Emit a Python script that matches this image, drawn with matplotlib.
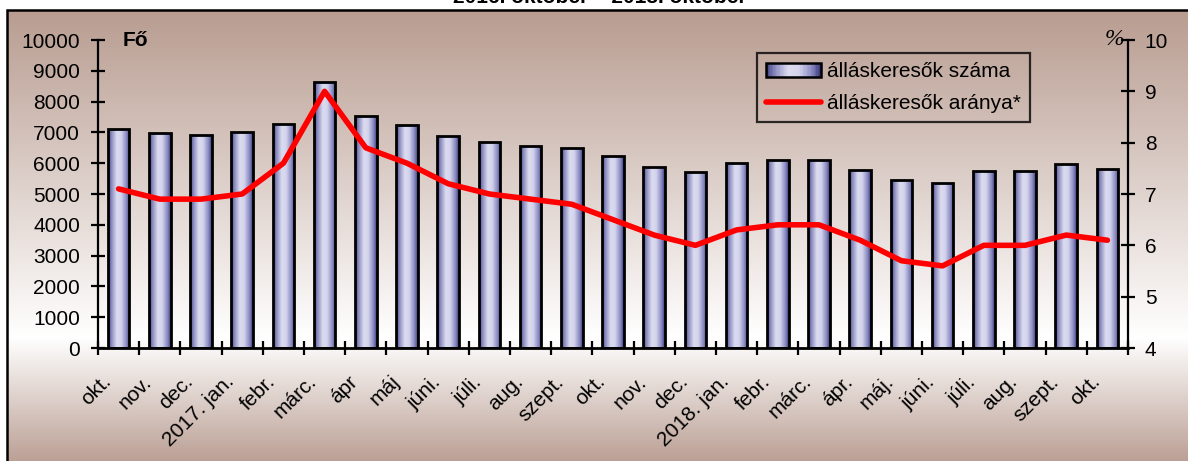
import numpy as np
import matplotlib
matplotlib.use('Agg')
import matplotlib.pyplot as plt
from matplotlib.colors import LinearSegmentedColormap
from matplotlib.patches import Rectangle
from matplotlib.legend_handler import HandlerBase
import matplotlib.transforms as mtransforms

plt.rcParams['font.family'] = ['Liberation Sans', 'DejaVu Sans']

# ---------------- data ----------------
months = ["okt.", "nov.", "dec.", "2017. jan.", "febr.", "márc.", "ápr", "máj",
          "júni.", "júli.", "aug.", "szept.", "okt.", "nov.", "dec.", "2018. jan.",
          "febr.", "márc.", "ápr.", "máj.", "júni.", "júli.", "aug.", "szept.", "okt."]
job_seekers = [7100, 6980, 6910, 7010, 7270, 8630, 7530, 7240, 6880, 6690, 6560, 6490,
               6230, 5880, 5710, 6010, 6100, 6110, 5780, 5450, 5360, 5750, 5750, 5970, 5810]
rate = [7.1, 6.9, 6.9, 7.0, 7.6, 9.0, 7.9, 7.6, 7.2, 7.0, 6.9, 6.8, 6.5, 6.2, 6.0,
        6.3, 6.4, 6.4, 6.1, 5.7, 5.6, 6.0, 6.0, 6.2, 6.1]
left_ticks = list(range(0, 10001, 1000))
right_ticks = [4, 5, 6, 7, 8, 9, 10]
series_names = ["álláskeresők száma", "álláskeresők aránya*"]
title = "2016. október – 2018. október"
left_unit = "Fő"
right_unit = "%"

# ---------------- figure ----------------
W, H = 1188, 461
fig = plt.figure(figsize=(W / 100, H / 100), dpi=100)
fig.patch.set_facecolor('white')

# background gradient inside frame
bg = fig.add_axes([8 / W, 0, 1 - 8 / W, 1 - 11 / H], zorder=0)
bg.axis('off')
taupe_top = np.array([184, 156, 144]) / 255
taupe_bot = np.array([187, 160, 149]) / 255
white = np.array([1.0, 1.0, 1.0])
n = 500
t = np.linspace(0, 1, n)  # 0 = top of bg axes
t_white = (338 - 11) / (H - 11)
img = np.zeros((n, 1, 3))
for i, tv in enumerate(t):
    if tv <= t_white:
        w = tv / t_white
        c = taupe_top * (1 - w) + white * w
    else:
        w = (tv - t_white) / (1 - t_white)
        c = white * (1 - w) + taupe_bot * w
    img[i, 0, :] = c
bg.imshow(img, aspect='auto', extent=(0, 1, 0, 1), interpolation='bilinear')
bg.set_xlim(0, 1)
bg.set_ylim(0, 1)

# frame
fig.add_artist(Rectangle((7 / W, -0.2), 1.3, 1.2 - 10 / H, transform=fig.transFigure,
                         fill=False, edgecolor='black', linewidth=1.8, clip_on=False))

# bar gradient colormap
bar_cmap = LinearSegmentedColormap.from_list('cyl', [
    (0.0, (0.24, 0.24, 0.50)),
    (0.15, (0.53, 0.53, 0.74)),
    (0.4, (0.86, 0.86, 0.94)),
    (0.6, (0.83, 0.83, 0.93)),
    (0.85, (0.53, 0.53, 0.75)),
    (1.0, (0.22, 0.22, 0.48)),
])

ax = fig.add_axes([98 / W, 1 - 348 / H, (1128 - 98) / W, (348 - 40) / H], zorder=2)
ax.patch.set_visible(False)

x = np.arange(len(months))
bars = ax.bar(x, job_seekers, width=0.52, facecolor='none', edgecolor='black',
              linewidth=2.0, zorder=3)
grad = np.linspace(0, 1, 256).reshape(1, -1)
for b in bars:
    x0, bw, bh = b.get_x(), b.get_width(), b.get_height()
    im = ax.imshow(grad, cmap=bar_cmap, extent=(x0, x0 + bw, 0, bh), aspect='auto',
                   zorder=2, interpolation='bilinear')
    im.set_clip_path(b)

ax.set_xlim(-0.5, len(months) - 0.5)
ax.set_ylim(0, 10000)
ax.set_yticks(left_ticks)
ax.set_yticklabels([str(v) for v in left_ticks], fontsize=15)
ax.set_xticks(np.arange(-0.5, len(months), 1))
ax.set_xticklabels([])
ax.tick_params(axis='y', direction='inout', length=10, width=1.6, pad=8, colors='black')
ax.tick_params(axis='x', direction='inout', length=10, width=1.6)
for s in ['top', 'right']:
    ax.spines[s].set_visible(False)
ax.spines['left'].set_linewidth(1.6)
ax.spines['bottom'].set_linewidth(2.0)

# rotated category labels (top-right corner of rotated box near the bar)
lab_trans = mtransforms.blended_transform_factory(ax.transData, ax.transAxes) + \
    mtransforms.ScaledTranslation(-4 / 100, -24 / 100, fig.dpi_scale_trans)
for i, m in enumerate(months):
    ax.text(x[i], 0, m, transform=lab_trans, rotation=45, ha='right', va='top',
            fontsize=15, clip_on=False)

# secondary axis
ax2 = ax.twinx()
ax2.set_zorder(3)
ax2.patch.set_visible(False)
line, = ax2.plot(x, rate, color='#ff0000', linewidth=4.0, solid_joinstyle='round',
                 solid_capstyle='round', zorder=5)
ax2.set_ylim(4, 10)
ax2.set_yticks(right_ticks)
ax2.set_yticklabels([str(v) for v in right_ticks], fontsize=15)
ax2.tick_params(axis='y', direction='inout', length=10, width=1.6, pad=7)
for s in ['top', 'left', 'bottom']:
    ax2.spines[s].set_visible(False)
ax2.spines['right'].set_linewidth(1.6)


# legend with gradient handle
class GradHandler(HandlerBase):
    def create_artists(self, legend, orig_handle, xdescent, ydescent, width, height,
                       fontsize, trans):
        arts = []
        k = 40
        for j in range(k):
            arts.append(Rectangle((-xdescent + width * j / k, -ydescent), width / k * 1.08,
                                  height, facecolor=bar_cmap((j + 0.5) / k),
                                  edgecolor='none', transform=trans))
        arts.append(Rectangle((-xdescent, -ydescent), width, height, facecolor='none',
                              edgecolor='black', linewidth=1.8, transform=trans))
        return arts


bar_proxy = Rectangle((0, 0), 1, 1)
leg = fig.legend([bar_proxy, line], series_names, loc='upper left',
                 bbox_to_anchor=(757 / W, 1 - 53 / H), bbox_transform=fig.transFigure,
                 borderaxespad=0, fontsize=15, handlelength=2.6, handletextpad=0.3,
                 borderpad=0.45, labelspacing=0.6, fancybox=False, frameon=True,
                 handler_map={bar_proxy: GradHandler()})
leg.get_frame().set_edgecolor('black')
leg.get_frame().set_facecolor('none')
leg.get_frame().set_linewidth(1.6)

# unit labels and title
fig.text(123 / W, 1 - 46 / H, left_unit, fontsize=15, fontweight='bold', va='baseline')
fig.text(1124 / W, 1 - 45 / H, right_unit, fontsize=17, style='italic', ha='right',
         va='baseline', family=['Liberation Serif', 'DejaVu Serif'])
fig.text(600 / W, 1 - 3 / H, title, fontsize=15, fontweight='bold', ha='center',
         va='baseline')

fig.savefig('out.png', dpi=100, facecolor=fig.get_facecolor())
